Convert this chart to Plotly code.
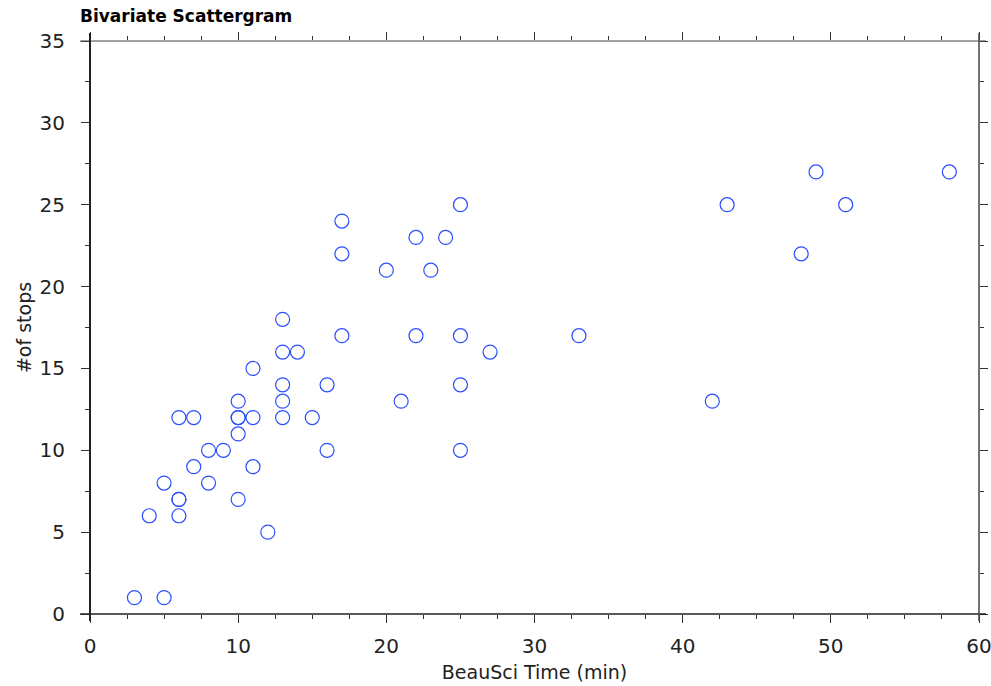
import plotly.graph_objects as go

beausci_time = [3, 5, 4, 5, 6, 6, 6, 6, 7, 7, 8, 8, 9, 10, 10, 10, 10, 10, 11, 11, 11, 12,
                13, 13, 13, 13, 13, 14, 15, 16, 16, 17, 17, 17, 20, 21, 22, 22, 23, 24,
                25, 25, 25, 25, 27, 33, 42, 43, 48, 49, 51, 58]
num_stops = [1, 1, 6, 8, 7, 7, 6, 12, 12, 9, 10, 8, 10, 11, 12, 12, 13, 7, 12, 15, 9, 5,
             18, 16, 14, 13, 12, 16, 12, 14, 10, 24, 22, 17, 21, 13, 23, 17, 21, 23,
             25, 17, 14, 10, 16, 17, 13, 25, 22, 27, 25, 27]

W, H = 991, 686
L, R, T, B = 90, 979, 41, 614
pw, ph = R - L, B - T

fig = go.Figure()
fig.add_trace(go.Scatter(
    x=beausci_time, y=num_stops, mode="markers",
    marker=dict(symbol="circle-open", size=14, color="#2a4dff", line=dict(width=1.2)),
    showlegend=False, hoverinfo="x+y"))

tickfont = dict(family="DejaVu Sans", size=20, color="#222")
titlefont = dict(family="DejaVu Sans", size=19, color="#222")
axis_common = dict(showgrid=False, zeroline=False, showline=False, automargin=False,
                   ticks="outside", ticklen=8, tickwidth=1, tickcolor="#333",
                   mirror="ticks", tickfont=tickfont, ticklabeloverflow="allow")

fig.update_xaxes(range=[0, 60], dtick=10, tick0=0, ticklabelstandoff=6,
                 minor=dict(dtick=2.5, ticks="outside", ticklen=4, tickcolor="#333", showgrid=False),
                 title=dict(text="BeauSci Time (min)", font=titlefont, standoff=8),
                 **axis_common)
fig.update_yaxes(range=[0, 35], dtick=5, tick0=0, ticklabelstandoff=12,
                 minor=dict(dtick=2.5, ticks="outside", ticklen=4, tickcolor="#333", showgrid=False),
                 title=dict(text="#of stops", font=titlefont, standoff=2),
                 **axis_common)

def px(xp):
    return (xp - L) / pw

def py(yp):
    return (B - yp) / ph

lc = "#222"
shapes = [
    dict(type="line", xref="paper", yref="paper", x0=px(80), x1=px(986), y0=0, y1=0, line=dict(color=lc, width=1.5)),
    dict(type="line", xref="paper", yref="paper", x0=px(80), x1=px(986), y0=1, y1=1, line=dict(color="#444", width=1)),
    dict(type="line", xref="paper", yref="paper", x0=0, x1=0, y0=py(621), y1=py(33), line=dict(color=lc, width=2)),
    dict(type="line", xref="paper", yref="paper", x0=1, x1=1, y0=py(621), y1=py(33), line=dict(color="#444", width=1.5)),
]

fig.update_layout(
    width=W, height=H,
    margin=dict(l=L, r=W - R, t=T, b=H - B),
    paper_bgcolor="white", plot_bgcolor="white",
    shapes=shapes,
    title=dict(text="<b>Bivariate Scattergram</b>", x=80 / W, xanchor="left",
               y=1 - 16 / H, yanchor="middle",
               font=dict(family="DejaVu Sans", size=17, color="black")),
)

fig.write_html("out.html")
